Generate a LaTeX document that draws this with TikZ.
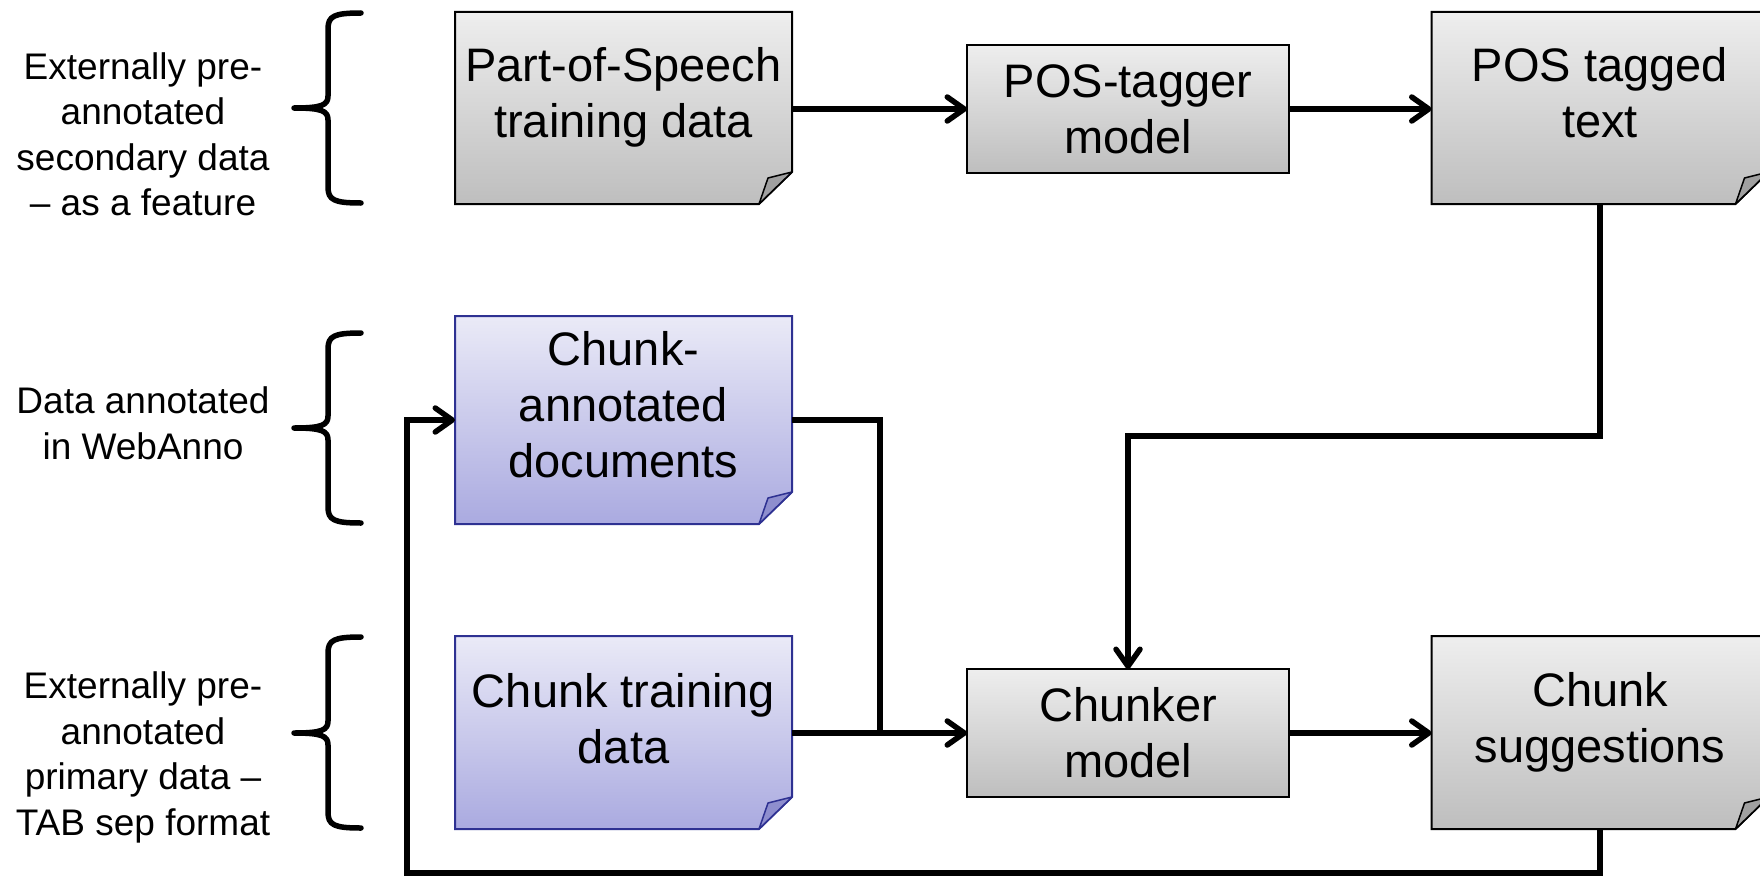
\documentclass[tikz,border=0pt]{standalone}
\usepackage{fontspec}
\setmainfont{Liberation Sans}
\usetikzlibrary{arrows.meta,calc}
\definecolor{gtop}{RGB}{238,238,238}
\definecolor{gbot}{RGB}{190,190,190}
\definecolor{btop}{RGB}{234,234,247}
\definecolor{bbot}{RGB}{170,170,224}
\definecolor{bdraw}{RGB}{46,49,146}
\definecolor{gflap}{RGB}{160,160,160}
\definecolor{bflap}{RGB}{142,142,206}
\newcommand\docshape[5]{%
  \path[draw=#2, line width=2pt, top color=#3, bottom color=#4]
    (#1.north west) -- (#1.north east) -- ([yshift=32pt]#1.south east)
    -- ([xshift=-33pt]#1.south east) -- (#1.south west) -- cycle;
  \path[draw=#2, line width=1.5pt, line join=round, fill=#5]
    ([yshift=32pt]#1.south east) -- ([xshift=-24pt,yshift=26pt]#1.south east)
    -- ([xshift=-33pt]#1.south east) -- cycle;
}
\newcommand\curly[3]{%
  \draw[bracestyle] (361,#1) .. controls (334,#1) and (328,#1+3) .. (328,#1+16)
    -- (328,#2-12) .. controls (328,#2-3) and (322,#2) .. (294,#2)
    .. controls (322,#2) and (328,#2+3) .. (328,#2+12)
    -- (328,#3-16) .. controls (328,#3-3) and (334,#3) .. (361,#3);
}
\tikzset{
  docnode/.style={rectangle, inner sep=0pt, outer sep=0pt, minimum width=337pt},
  btext/.style={align=center, font=\fontsize{47}{56}\selectfont, inner sep=0pt},
  ltext/.style={align=center, font=\fontsize{37}{45.5}\selectfont, inner sep=0pt},
  model/.style={rectangle, draw=black, line width=2pt, top color=gtop, bottom color=gbot,
    minimum width=322pt, minimum height=128pt, inner sep=0pt, outer sep=0pt, align=center,
    font=\fontsize{47}{56}\selectfont},
  conn/.style={line width=5.5pt, line join=miter},
  arr/.style={conn, -{Straight Barb[length=17pt, width=24pt, line width=5.5pt, round]}},
  bracestyle/.style={line width=5.5pt, line cap=round, line join=round},
}
\begin{document}
\begin{tikzpicture}[x=1pt, y=-1pt]
\useasboundingbox (0,0) rectangle (1760,875);
\fill[white] (0,0) rectangle (1760,875);
\clip (0,0) rectangle (1760,875);

% left labels and braces
\node[ltext] (lab1) at (143,134.5) {Externally pre-\\annotated\\secondary data\\– as a feature};
\node[ltext] (lab2) at (143,423.5) {Data annotated\\in WebAnno};
\node[ltext] (lab3) at (143,757.5) {Externally pre-\\annotated\\primary data –\\TAB sep format};
\curly{13}{108}{203}
\curly{333}{428}{523}
\curly{637}{733}{828}

% document boxes
\node[docnode, minimum height=192pt] (pos) at (623.5,108) {};
\node[docnode, minimum height=192pt] (postext) at (1600,108) {};
\node[docnode, minimum height=208pt] (chunkann) at (623.5,420) {};
\node[docnode, minimum height=193pt] (chunktrain) at (623.5,732.5) {};
\node[docnode, minimum height=193pt] (chunksugg) at (1600,732.5) {};
\docshape{pos}{black}{gtop}{gbot}{gflap}
\docshape{postext}{black}{gtop}{gbot}{gflap}
\docshape{chunksugg}{black}{gtop}{gbot}{gflap}
\docshape{chunkann}{bdraw}{btop}{bbot}{bflap}
\docshape{chunktrain}{bdraw}{btop}{bbot}{bflap}
\node[btext] at ([yshift=11pt]pos.center) {Part-of-Speech\\training data};
\node[btext] at ([yshift=15pt]postext.center) {POS tagged\\text};
\node[btext] at ([yshift=15pt]chunkann.center) {Chunk-\\annotated\\documents};
\node[btext] at ([yshift=14pt]chunktrain.center) {Chunk training\\data};
\node[btext] at ([yshift=10pt]chunksugg.center) {Chunk\\suggestions};

% model boxes
\node[model] (tagger) at (1128,109) {POS-tagger\\model};
\node[model] (chunker) at (1128,733) {Chunker\\model};

% connectors
\coordinate (join) at (880,733);
\coordinate (bendA) at (1128,436);
\coordinate (loopR) at (1600,873);
\coordinate (loopL) at (407,873);
\coordinate (loopT) at (407,420);
\draw[arr] (pos.east |- tagger.west) -- (tagger.west);
\draw[arr] (tagger.east) -- (tagger.east -| postext.west);
\draw[arr] (postext.south) -- (postext.south |- bendA) -- (bendA) -- (chunker.north);
\draw[conn] (chunkann.east) -| (join);
\draw[arr] (chunktrain.east |- chunker.west) -- (chunker.west);
\draw[arr] (chunker.east) -- (chunker.east -| chunksugg.west);
\draw[arr] (chunksugg.south) -- (loopR) -- (loopL) -- (loopT) -- (chunkann.west);
\end{tikzpicture}
\end{document}
